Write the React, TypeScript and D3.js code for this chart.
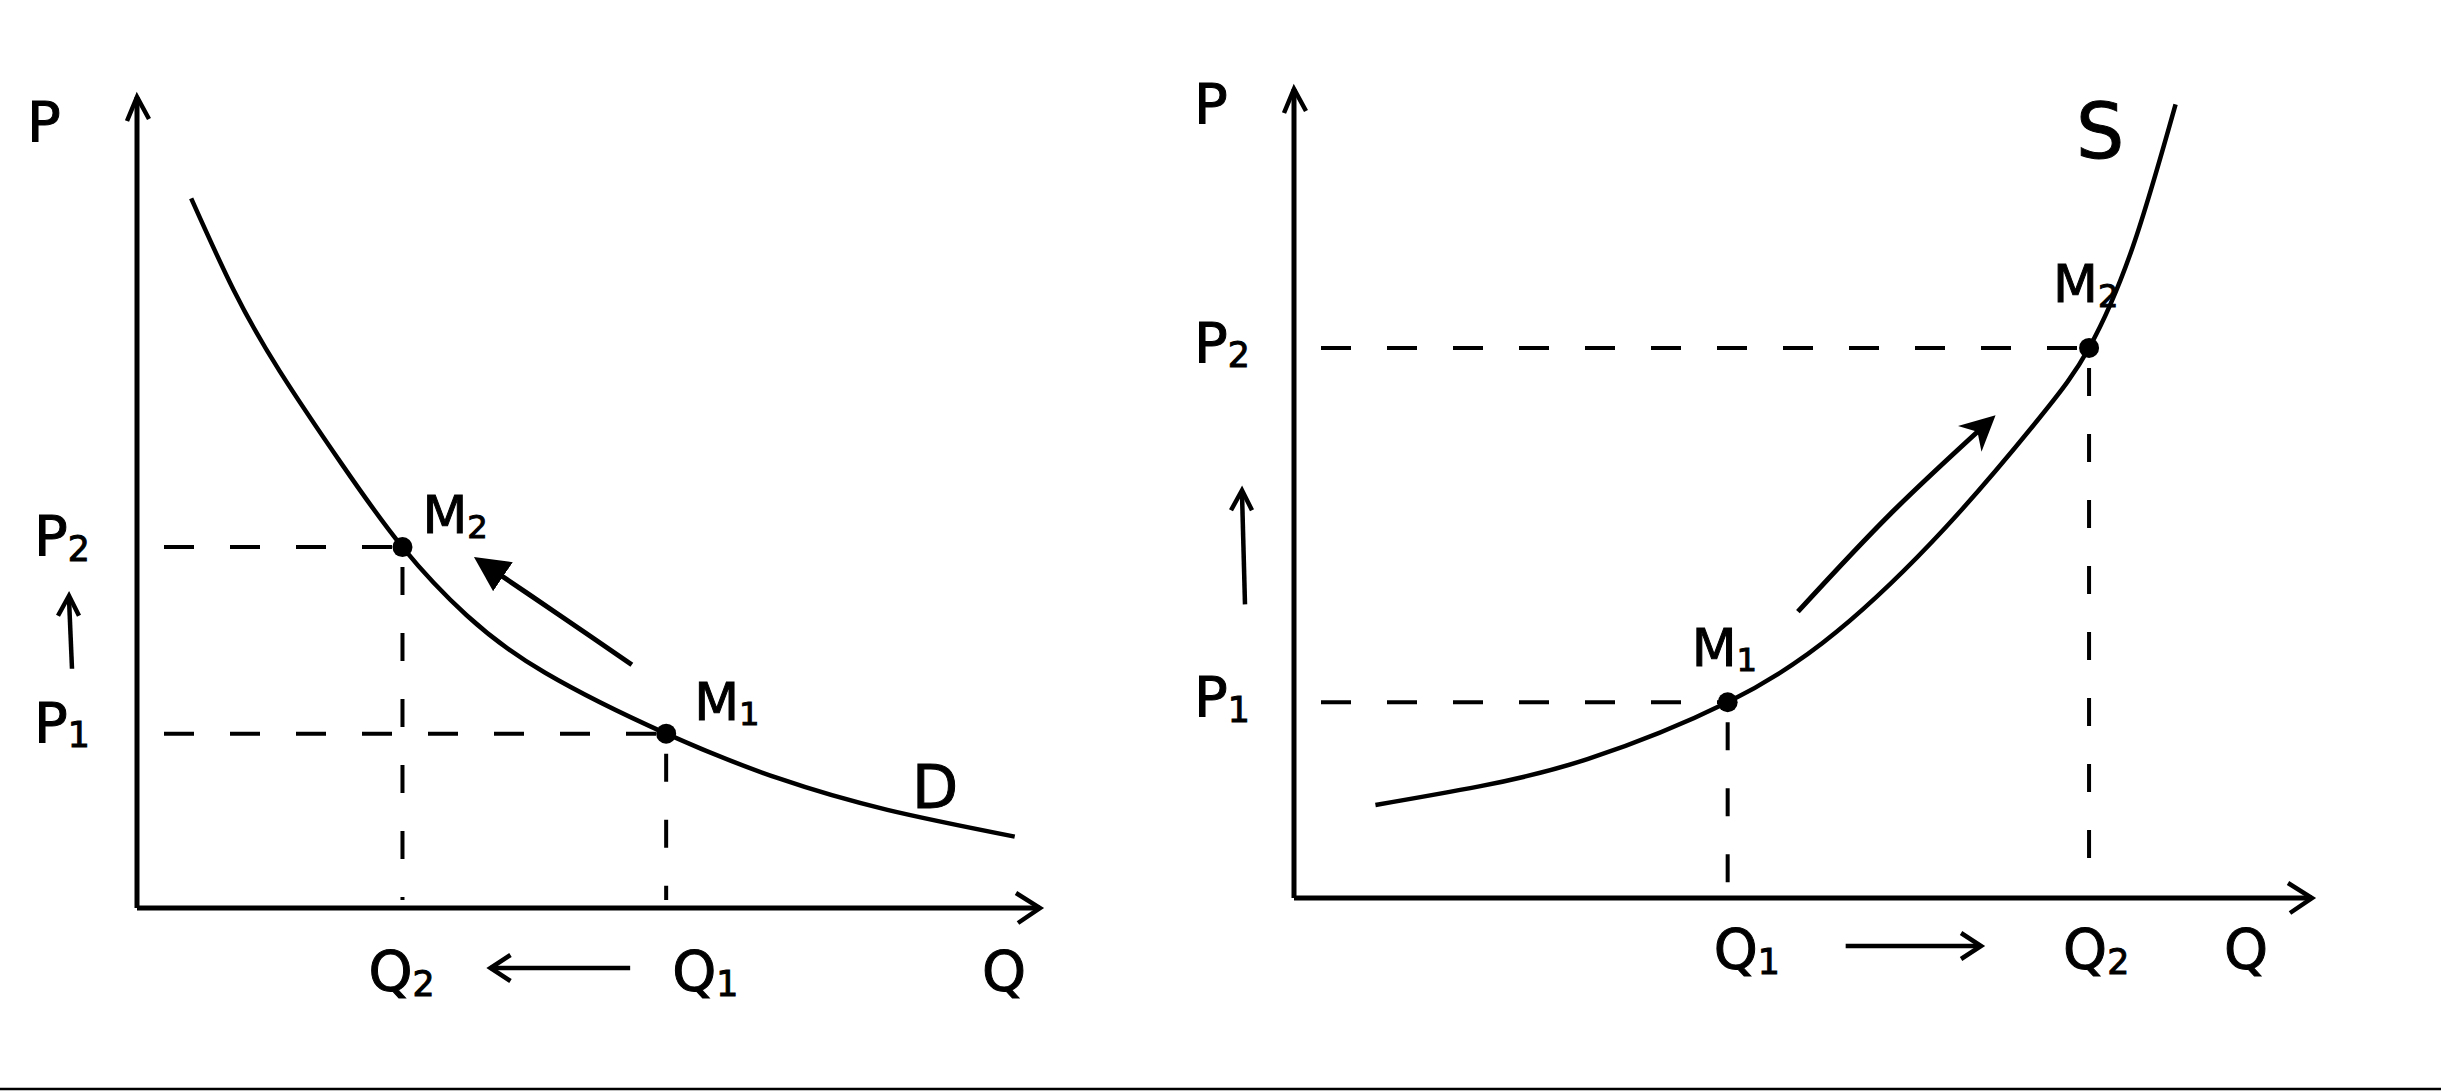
import React from "react";
import * as d3 from "d3";

// ---- data (abstract units 0..10) ----
const demandQ = [0.6, 1.07, 1.58, 2.27, 2.94, 3.65, 4.52, 5.86, 7.1, 8.31, 9.72];
const demandP = [8.75, 7.62, 6.62, 5.47, 4.45, 3.61, 2.9, 2.15, 1.6, 1.21, 0.88];
const demandPointNames = ["M", "M"];
const demandPointSubs = ["2", "1"];
const demandPointQ = [2.94, 5.86];
const demandPointP = [4.45, 2.15];
const demandMoveQ = [5.48, 4.68, 3.86];
const demandMoveP = [3.0, 3.61, 4.23];

const supplyQ = [0.8, 1.82, 2.89, 4.26, 5.33, 6.4, 7.32, 7.81, 8.24, 8.66];
const supplyP = [1.15, 1.38, 1.72, 2.42, 3.29, 4.58, 5.93, 6.8, 8.05, 9.81];
const supplyPointNames = ["M", "M"];
const supplyPointSubs = ["1", "2"];
const supplyPointQ = [4.26, 7.81];
const supplyPointP = [2.42, 6.8];
const supplyMoveQ = [4.95, 5.86, 6.79];
const supplyMoveP = [3.54, 4.75, 5.85];

const W = 2441;
const H = 1092;
const FONT = "'DejaVu Sans', sans-serif";
const INK = "#000";

type PanelProps = {
  x0: number; x1: number; y0: number; y1: number;
  curveQ: number[]; curveP: number[];
  ptQ: number[]; ptP: number[]; ptNames: string[]; ptSubs: string[];
  moveQ: number[]; moveP: number[];
  curveLabel: string; curveLabelPos: [number, number]; curveLabelSize: number;
  qArrowDir: number; // -1 left, 1 right
  id: string;
  ptLabelOffsets: [number, number][];
  pTitleOffset: [number, number];
  upArrow: [number, number, number]; // x offset from axis, from p, to p
  qArrowInset: [number, number];
  qLabelDy: number;
  qLabelDx: number[];
  qTitleDx: number;
  pLabelDx: number;
  pLabelDy: number;
};

function Label({ x, y, main, sub, size = 56 }: { x: number; y: number; main: string; sub?: string; size?: number }) {
  return (
    <text x={x} y={y} fontFamily={FONT} fontSize={size} fill={INK} stroke={INK} strokeWidth={1}>
      {main}
      {sub ? (
        <tspan fontSize={size * 0.62} dy={size * 0.1}>{sub}</tspan>
      ) : null}
    </text>
  );
}

function Panel(props: PanelProps) {
  const { x0, x1, y0, y1 } = props;
  const xs = d3.scaleLinear().domain([0, 10]).range([x0, x1]);
  const ys = d3.scaleLinear().domain([0, 10]).range([y0, y1]);
  const pts: [number, number][] = props.curveQ.map((q, i) => [xs(q), ys(props.curveP[i])]);
  const line = d3.line().curve(d3.curveNatural);
  const mvLine = d3.line().curve(d3.curveCatmullRom.alpha(0.5));
  const mv: [number, number][] = props.moveQ.map((q, i) => [xs(q), ys(props.moveP[i])]);
  const axisEndX = xs(10);
  const axisEndY = ys(10);
  const qLabelY = y0 + props.qLabelDy;
  return (
    <g>
      {/* axes */}
      <path d={`M${x0},${y0} L${x0},${axisEndY}`} stroke={INK} strokeWidth={5} fill="none" />
      <path d={`M${x0},${y0} L${axisEndX},${y0}`} stroke={INK} strokeWidth={5} fill="none" />
      <path d={`M${x0 - 10},${axisEndY + 24} L${x0},${axisEndY} L${x0 + 12},${axisEndY + 22}`} stroke={INK} strokeWidth={4.5} fill="none" />
      <path d={`M${axisEndX - 24},${y0 - 15} L${axisEndX},${y0} L${axisEndX - 22},${y0 + 15}`} stroke={INK} strokeWidth={4.5} fill="none" />
      <Label x={x0 + props.pTitleOffset[0]} y={ys(10) + props.pTitleOffset[1]} main="P" />
      <Label x={axisEndX + props.qTitleDx} y={qLabelY} main="Q" />
      {/* guides */}
      {props.ptQ.map((q, i) => (
        <g key={"g" + i}>
          <line x1={x0 + 27} y1={ys(props.ptP[i])} x2={xs(q)} y2={ys(props.ptP[i])} stroke={INK} strokeWidth={4} strokeDasharray="30 36" />
          <line x1={xs(q)} y1={ys(props.ptP[i]) + 20} x2={xs(q)} y2={y0 - 8} stroke={INK} strokeWidth={4} strokeDasharray="28 38" />
        </g>
      ))}
      {/* curve */}
      <path d={line(pts) || ""} stroke={INK} strokeWidth={4.5} fill="none" />
      <text x={props.curveLabelPos[0]} y={props.curveLabelPos[1]} fontFamily={FONT} fontSize={props.curveLabelSize} fill={INK} stroke={INK} strokeWidth={1}>{props.curveLabel}</text>
      {/* points */}
      {props.ptQ.map((q, i) => (
        <g key={"p" + i}>
          <circle cx={xs(q)} cy={ys(props.ptP[i])} r={10} fill={INK} />
          <Label x={xs(q) + props.ptLabelOffsets[i][0]} y={ys(props.ptP[i]) + props.ptLabelOffsets[i][1]} main={props.ptNames[i]} sub={props.ptSubs[i]} size={52} />
          <Label x={x0 + props.pLabelDx} y={ys(props.ptP[i]) + props.pLabelDy} main="P" sub={props.ptSubs[i]} />
          <Label x={xs(q) + props.qLabelDx[i]} y={qLabelY} main="Q" sub={props.ptSubs[i]} />
        </g>
      ))}
      {/* movement arrow along curve */}
      <path d={mvLine(mv) || ""} stroke={INK} strokeWidth={5} fill="none" markerEnd={`url(#ah-${props.id})`} />
      {/* price up arrow */}
      {(() => {
        const a = ys(props.upArrow[1]);
        const b = ys(props.upArrow[2]);
        const ax = x0 + props.upArrow[0];
        return (
          <g>
            <line x1={ax + 3} y1={a} x2={ax} y2={b + 3} stroke={INK} strokeWidth={4.5} />
            <path d={`M${ax - 11},${b + 20} L${ax},${b} L${ax + 10},${b + 20}`} stroke={INK} strokeWidth={4.5} fill="none" />
          </g>
        );
      })()}
      {/* quantity arrow */}
      {(() => {
        const qs = [...props.ptQ].sort((a, b) => a - b);
        const left = xs(qs[0]) + props.qArrowInset[0];
        const right = xs(qs[1]) - props.qArrowInset[1];
        const yy = qLabelY - 22;
        const tip = props.qArrowDir < 0 ? left : right;
        const tail = props.qArrowDir < 0 ? right : left;
        const d = props.qArrowDir;
        return (
          <g>
            <line x1={tail} y1={yy} x2={tip} y2={yy} stroke={INK} strokeWidth={4.5} />
            <path d={`M${tip - d * 20},${yy - 13} L${tip},${yy} L${tip - d * 20},${yy + 13}`} stroke={INK} strokeWidth={4.5} fill="none" />
          </g>
        );
      })()}
    </g>
  );
}

export default function App() {
  return (
    <svg width={W} height={H} style={{ position: "absolute", left: 0, top: 0, background: "#fff" }}>
      <defs>
        <marker id="ah-d" viewBox="0 0 10 10" refX="6" refY="5" markerWidth="7" markerHeight="7" orient="auto">
          <path d="M0,0 L10,5 L0,10 Z" fill={INK} />
        </marker>
        <marker id="ah-s" viewBox="0 0 10 10" refX="6" refY="5" markerWidth="7" markerHeight="7" orient="auto">
          <path d="M0,0 L10,5 L0,10 L3,5 Z" fill={INK} />
        </marker>
      </defs>
      <rect x={0} y={0} width={W} height={H} fill="#fff" />
      <Panel
        id="d"
        x0={137} x1={1040} y0={908} y1={97}
        curveQ={demandQ} curveP={demandP}
        ptQ={demandPointQ} ptP={demandPointP} ptNames={demandPointNames} ptSubs={demandPointSubs}
        moveQ={demandMoveQ} moveP={demandMoveP}
        curveLabel="D" curveLabelPos={[912, 808]} curveLabelSize={60}
        qArrowDir={-1}
        ptLabelOffsets={[[20, -14], [28, -14]]}
        pTitleOffset={[-110, 44]}
        upArrow={[-68, 2.95, 3.85]}
        qArrowInset={[88, 36]}
        qLabelDy={82}
        qLabelDx={[-34, 6]}
        qTitleDx={-58}
        pLabelDx={-103}
        pLabelDy={8}
      />
      <Panel
        id="s"
        x0={1294} x1={2312} y0={898} y1={89}
        curveQ={supplyQ} curveP={supplyP}
        ptQ={supplyPointQ} ptP={supplyPointP} ptNames={supplyPointNames} ptSubs={supplyPointSubs}
        moveQ={supplyMoveQ} moveP={supplyMoveP}
        curveLabel="S" curveLabelPos={[2076, 158]} curveLabelSize={76}
        qArrowDir={1}
        ptLabelOffsets={[[-36, -36], [-36, -46]]}
        pTitleOffset={[-100, 34]}
        upArrow={[-52, 3.63, 5.04]}
        qArrowInset={[118, 108]}
        qLabelDy={70}
        qLabelDx={[-14, -26]}
        qTitleDx={-88}
        pLabelDx={-100}
        pLabelDy={14}
      />
      <line x1={0} y1={1089} x2={W} y2={1089} stroke={INK} strokeWidth={2.5} />
    </svg>
  );
}
